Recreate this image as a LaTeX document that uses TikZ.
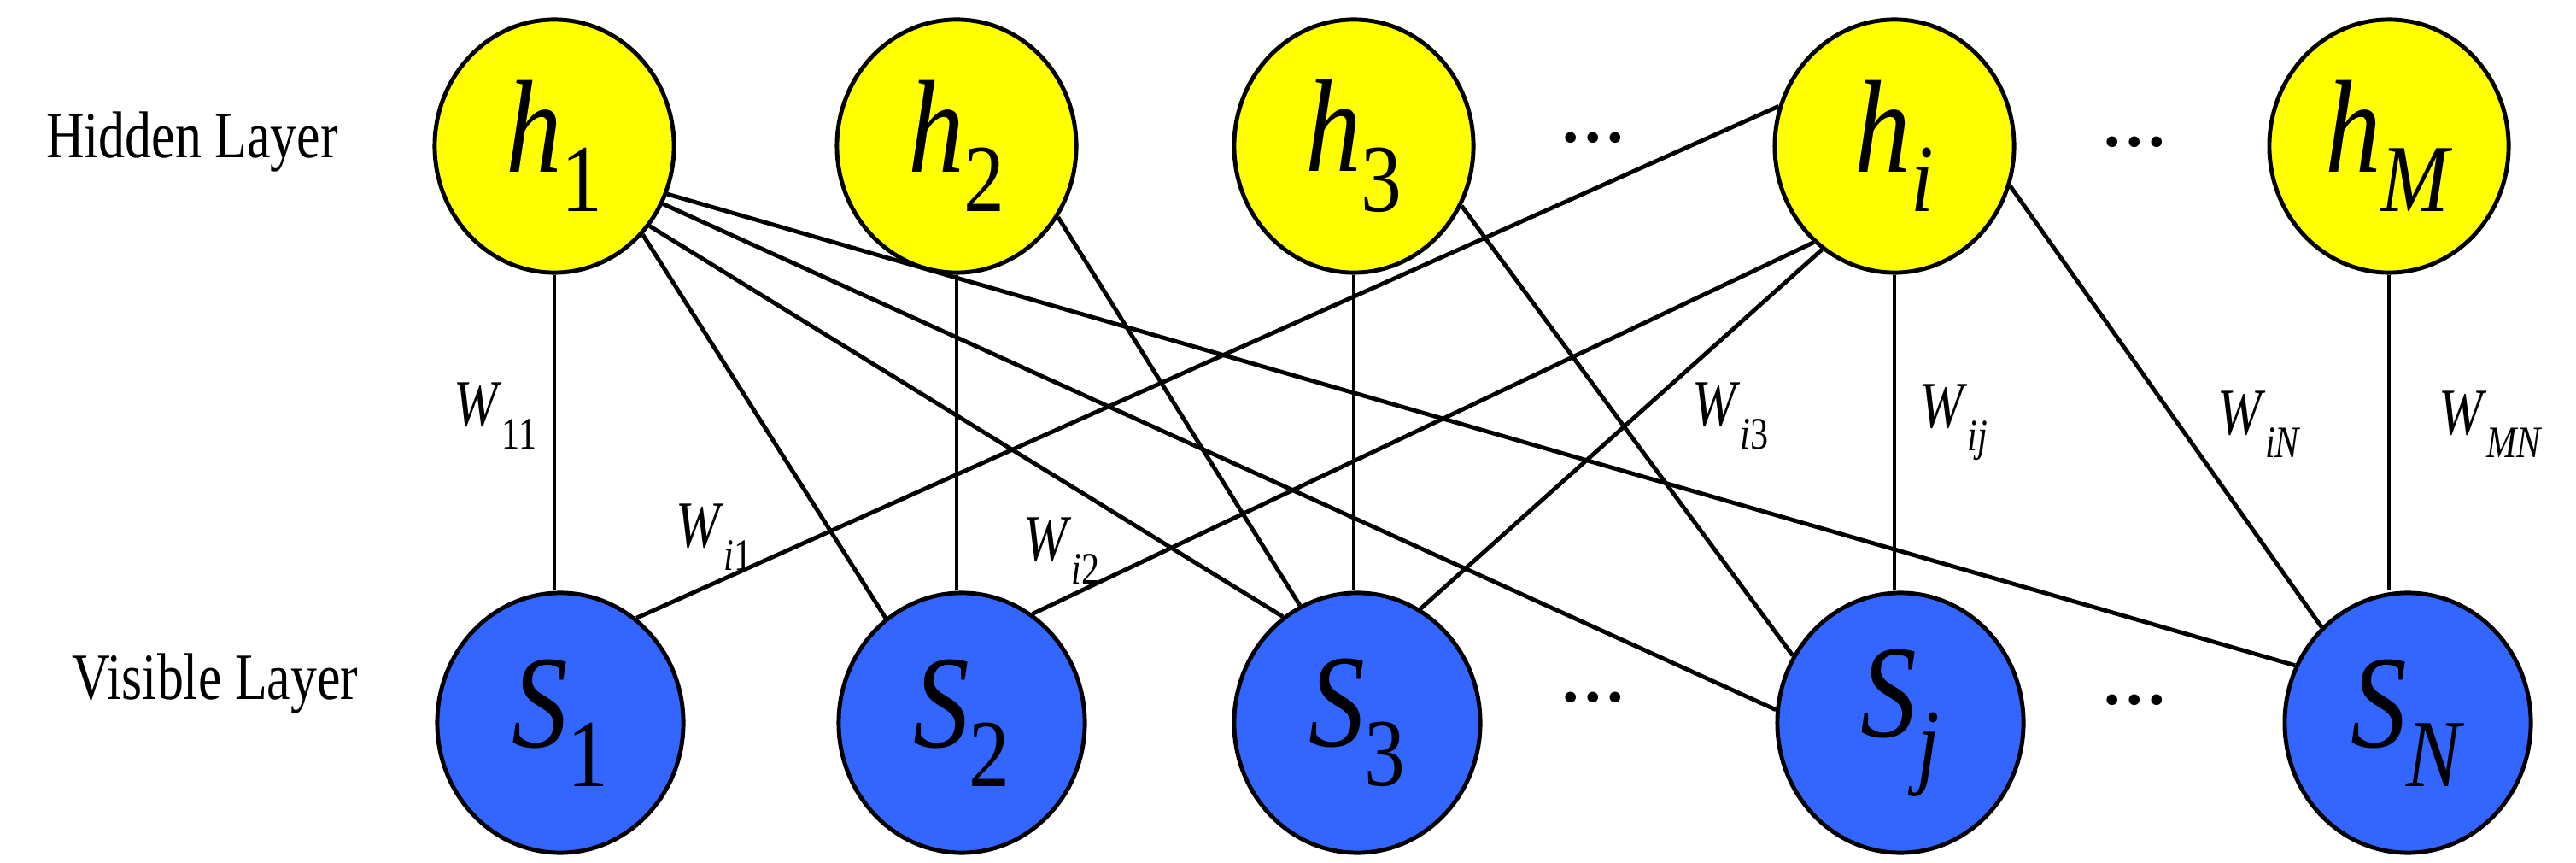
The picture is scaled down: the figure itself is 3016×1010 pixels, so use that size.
\documentclass[tikz,border=0pt]{standalone}
\usepackage{fontspec}
\setmainfont{Liberation Serif}
\usetikzlibrary{shapes.geometric}
\definecolor{hy}{HTML}{FFFF00}
\definecolor{vb}{HTML}{3366FF}
\newcommand{\nl}[2]{\scalebox{0.85}[1]{\textit{#1}\raisebox{-0.3em}{\fontsize{32}{34}\selectfont #2}}}
\newcommand{\wlab}[1]{\scalebox{0.8}[1]{\textit{W}\raisebox{-0.35em}{\fontsize{15}{17}\selectfont #1}}}
\begin{document}
\begin{tikzpicture}[x=0.01cm,y=-0.01cm,
  hid/.style={ellipse,draw=black,line width=1.4pt,fill=hy,minimum width=2.80cm,minimum height=2.96cm,inner sep=0pt},
  vis/.style={ellipse,draw=black,line width=1.4pt,fill=vb,minimum width=2.88cm,minimum height=3.04cm,inner sep=0pt},
  lab/.style={font=\fontsize{44}{48}\selectfont},
  ed/.style={line width=1.4pt},
  ev/.style={line width=0.9pt},
  wl/.style={font=\fontsize{22}{26}\selectfont},
  lay/.style={font=\fontsize{22}{26}\selectfont},
  dt/.style={font=\fontsize{22}{26}\selectfont\bfseries}]
\useasboundingbox (0,0) rectangle (3016,1010);
\node[hid,lab] (h1) at (649,171) {\nl{h}{1}};
\node[hid,lab] (h2) at (1120,171) {\nl{h}{2}};
\node[hid,lab] (h3) at (1585,171) {\nl{h}{3}};
\node[hid,lab] (hi) at (2218,171) {\nl{h}{\textit{i}}};
\node[hid,lab] (hM) at (2797,171) {\nl{h}{\textit{M}}};
\node[vis,lab] (S1) at (656,846) {\nl{S}{1}};
\node[vis,lab] (S2) at (1126,846) {\nl{S}{2}};
\node[vis,lab] (S3) at (1589,846) {\nl{S}{3}};
\node[vis,lab] (Sj) at (2225,846) {\nl{S}{\textit{j}}};
\node[vis,lab] (SN) at (2819,846) {\nl{S}{\textit{N}}};
\node[lay] (hl) at (225,166) {\scalebox{0.8}[1]{Hidden Layer}};
\node[lay] (vl) at (252,800) {\scalebox{0.8}[1]{Visible Layer}};
\node[dt] (d1) at (1865,161) {\ldots};
\node[dt] (d2) at (2499,166) {\ldots};
\node[dt] (d3) at (1865,816) {\ldots};
\node[dt] (d4) at (2499,819) {\ldots};
\draw[ev] (h1.south) -- (h1.south |- S1.north);
\draw[ev] (h2.south) -- (h2.south |- S2.north);
\draw[ev] (h3.south) -- (h3.south |- S3.north);
\draw[ev] (hi.south) -- (hi.south |- Sj.north);
\draw[ev] (hM.south) -- (hM.south |- SN.north);
\draw[ed] (h1.-45) -- (S2.126);
\draw[ed] (h1.-40) -- (S3.125);
\draw[ed] (h1.-28) -- (Sj.174);
\draw[ed] (h1.-23) -- (SN.153);
\draw[ed] (h2.-35) -- (S3.116);
\draw[ed] (h3.-29) -- (Sj.148);
\draw[ed] (hi.161) -- (S1.54);
\draw[ed] (hi.-130) -- (S2.57);
\draw[ed] (hi.-125) -- (S3.61);
\draw[ed] (hi.-19) -- (SN.132);
\node[wl] (w11) at (580,487) {\wlab{11}};
\node[wl] (wi1) at (836,629) {\wlab{\textit{i}1}};
\node[wl] (wi2) at (1243,645) {\wlab{\textit{i}2}};
\node[wl] (wi3) at (2026,487) {\wlab{\textit{i}3}};
\node[wl] (wij) at (2287,494) {\wlab{\textit{ij}}};
\node[wl] (wiN) at (2645,497) {\wlab{\textit{iN}}};
\node[wl] (wMN) at (2916,497) {\wlab{\textit{MN}}};
\end{tikzpicture}
\end{document}
